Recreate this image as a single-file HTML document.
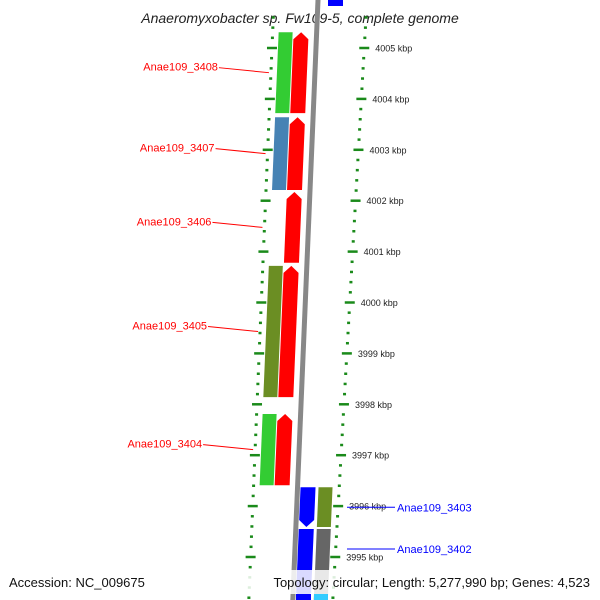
<!DOCTYPE html>
<html><head><meta charset="utf-8"><style>
html,body{margin:0;padding:0;background:#fff;}
svg{display:block;font-family:"Liberation Sans",sans-serif;}
</style></head><body>
<svg id="map" width="600" height="600" viewBox="0 0 600 600">
<text x="300" y="23" text-anchor="middle" font-size="14" font-style="italic" fill="#222">Anaeromyxobacter sp. Fw109-5, complete genome</text>
<g id="rulers"></g>
<g id="features"></g>
<g id="labels"></g>
<rect x="0" y="570" width="600" height="24" fill="#fff" opacity="0.85"/>
<text x="9" y="587" font-size="13" fill="#111">Accession: NC_009675</text>
<text x="590" y="587" text-anchor="end" font-size="13" fill="#111">Topology: circular; Length: 5,277,990 bp; Genes: 4,523</text>
</svg>
<script>
const tickLabels = [4005,4004,4003,4002,4001,4000,3999,3998,3997,3996,3995];
const revStarts = [4005.31,4003.64,4002.17,4000.72,3997.81];
const revEnds   = [4003.72,4002.21,4000.78,3998.14,3996.41];
const revGeneColors = ["#33cc33","#4682b4",null,"#6b8e23","#33cc33"];
const revGeneNames = ["Anae109_3408","Anae109_3407","Anae109_3406","Anae109_3405","Anae109_3404"];
const fwdStarts = [3996.37,3995.55];
const fwdEnds   = [3995.59,3994.16];
const fwdGeneColors = ["#6b8e23","#666666"];
const fwdGeneNames = ["Anae109_3403","Anae109_3402"];

const NS="http://www.w3.org/2000/svg";
function yOf(k){return 48+(4005-k)*50.9;}
function bx(y){return 318-0.042*y;}
function mk(tag,attrs,parent){const e=document.createElementNS(NS,tag);for(const k in attrs)e.setAttribute(k,attrs[k]);parent.appendChild(e);return e;}
const R=document.getElementById('rulers'),F=document.getElementById('features'),L=document.getElementById('labels');

// backbone
const bb=mk('line',{x1:bx(-10),y1:-10,x2:bx(610),y2:610,stroke:'#888','stroke-width':5},F);



// rulers
for(let k=4005.6;k>=3993.9;k-=0.2){
  const y=yOf(k), kk=Math.round(k*5)/5, major=Math.abs(kk-Math.round(kk))<0.01;
  const rx=bx(y)+49-9*(y/600);
  const t=mk('line',{x1:rx-(major?5:1.5),y1:y,x2:rx+(major?5:1.5),y2:y,stroke:'#1a8a1a','stroke-width':2.5},R);
  
  
  const lx=bx(y)-44;
  const half=Math.abs(kk*2-Math.round(kk*2))<0.01;
  const t2=mk('line',{x1:lx-(half?5:1.5),y1:y,x2:lx+(half?5:1.5),y2:y,stroke:'#1a8a1a','stroke-width':2.5},R);
  
  
}
tickLabels.forEach(k=>{
  const y=yOf(k);
  const tx=mk('text',{x:bx(y)+49-9*(y/600)+11,y:y+3.5,'font-size':9,fill:'#222'},R);
  tx.textContent=k+' kbp';
  
  
});

function band(y1,y2,o1,o2,color,arrow,dir,name){
  const p=[];
  const a=arrow?7:0;
  if(dir<0){ // arrow up at y1
    p.push([bx(y1+a)+o1,y1+a],[bx(y1)+(o1+o2)/2,y1],[bx(y1+a)+o2,y1+a],[bx(y2)+o2,y2],[bx(y2)+o1,y2]);
  } else {
    p.push([bx(y1)+o1,y1],[bx(y1)+o2,y1],[bx(y2-a)+o2,y2-a],[bx(y2)+(o1+o2)/2,y2],[bx(y2-a)+o1,y2-a]);
  }
  const e=mk('polygon',{points:p.map(q=>q.join(',')).join(' '),fill:color},F);
  
  
}
revStarts.forEach((s,i)=>{
  const y1=yOf(s),y2=yOf(revEnds[i]);
  band(y1,y2,-23,-8,'#ff0000',true,-1,'cds-'+revGeneNames[i]);
  if(revGeneColors[i]) band(y1,y2,-38,-24,revGeneColors[i],false,-1,'gene-'+revGeneNames[i]);
  const ym=(y1+y2)/2;
  const lx=bx(ym)-46;
  const ln=mk('line',{x1:lx-50,y1:ym-5,x2:lx,y2:ym,stroke:'#ff0000','stroke-width':1},L);
  
  
  const t=mk('text',{x:lx-51,y:ym-2,'text-anchor':'end','font-size':11,fill:'#ff0000'},L);
  t.textContent=revGeneNames[i];
  
  
});
fwdStarts.forEach((s,i)=>{
  const y1=yOf(s),y2=yOf(fwdEnds[i]);
  band(y1,y2,3,18,'#0000ff',true,1,'cds-'+fwdGeneNames[i]);
  band(y1,y2,21,35,fwdGeneColors[i],false,1,'gene-'+fwdGeneNames[i]);
  const ym=y1+20;
  const ln=mk('line',{x1:347,y1:ym,x2:395,y2:ym,stroke:'#0000ff','stroke-width':1},L);
  
  
  const t=mk('text',{x:397,y:ym+4,'font-size':11,fill:'#0000ff'},L);
  t.textContent=fwdGeneNames[i];
  
  
});
// partial features at top/bottom edges
const topBlue=mk('rect',{x:328,y:-2,width:15,height:8,fill:'#0000ff'},F);


const botB=mk('rect',{x:bx(596)+3,y:594,width:15,height:8,fill:'#0000ff'},F);


const botC=mk('rect',{x:bx(596)+21,y:594,width:14,height:8,fill:'#33ccff'},F);


</script>
</body></html>
